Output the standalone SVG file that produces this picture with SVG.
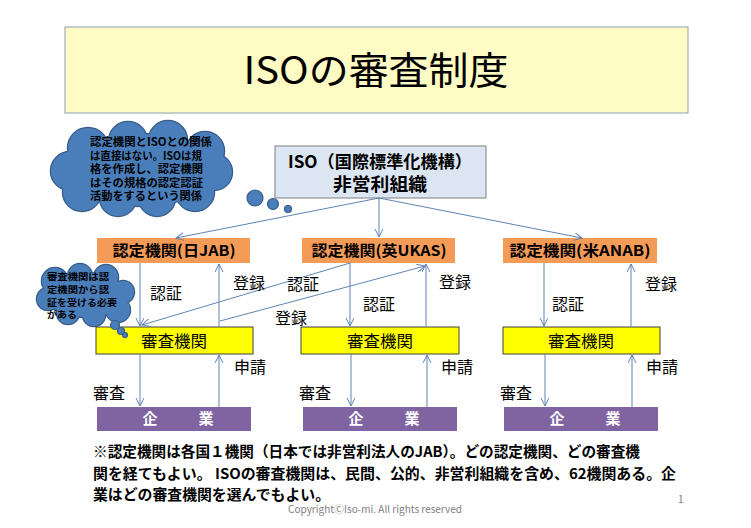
<svg xmlns="http://www.w3.org/2000/svg" width="751" height="528" viewBox="0 0 751 528">
<style>
text{font-family:"Noto Sans CJK JP","Noto Sans",sans-serif;fill:#000}
.b{font-weight:bold}
.lbl{font-size:16px}
.org rect{fill:#F59B58;stroke:none}
.org text{font-size:15px;font-weight:bold;text-anchor:middle}
.yel rect{fill:#FFFF00;stroke:#404040;stroke-width:1}
.yel text{font-size:16px;text-anchor:middle}
.pur rect{fill:#8064A2;stroke:none}
.pur text{font-size:15px;font-weight:bold;fill:#fff;text-anchor:middle}
.conn line{stroke:#5F83B5;stroke-width:1;marker-end:url(#ah)}
.cl-o *{fill:#4A7EBB;stroke:#385D8A;stroke-width:2.5}
.cl-f *{fill:#4A7EBB;stroke:none}
.bub{fill:#4A7EBB;stroke:#385D8A;stroke-width:1.2}
.cloudtxt{font-weight:bold}
</style>
<defs>
<marker id="ah" markerUnits="userSpaceOnUse" markerWidth="10" markerHeight="10" refX="8" refY="4" orient="auto">
<path d="M0,0 L8,4 L0,8" fill="none" stroke="#5F83B5" stroke-width="1"/>
</marker>
</defs>
<rect width="751" height="528" fill="#fff"/>

<g id="title">
<rect x="65" y="27" width="623" height="86" fill="#FFFBC4" stroke="#8EA0B4" stroke-width="1"/>
<text x="376" y="84" font-size="38" text-anchor="middle" textLength="265" lengthAdjust="spacingAndGlyphs">ISOの審査制度</text>
</g>

<g id="cloud1">
<g class="cl-o">
<ellipse cx="142" cy="170" rx="72" ry="36"/>
<circle cx="88" cy="148" r="20"/>
<circle cx="128" cy="141" r="19"/>
<circle cx="168" cy="140" r="19"/>
<circle cx="205" cy="151" r="19"/>
<circle cx="70" cy="171" r="19"/>
<circle cx="82" cy="192" r="19"/>
<circle cx="118" cy="198" r="18"/>
<circle cx="157" cy="198" r="18"/>
<circle cx="195" cy="192" r="19"/>
<circle cx="214" cy="172" r="18"/>
</g>
<g class="cl-f">
<ellipse cx="142" cy="170" rx="72" ry="36"/>
<circle cx="88" cy="148" r="20"/>
<circle cx="128" cy="141" r="19"/>
<circle cx="168" cy="140" r="19"/>
<circle cx="205" cy="151" r="19"/>
<circle cx="70" cy="171" r="19"/>
<circle cx="82" cy="192" r="19"/>
<circle cx="118" cy="198" r="18"/>
<circle cx="157" cy="198" r="18"/>
<circle cx="195" cy="192" r="19"/>
<circle cx="214" cy="172" r="18"/>
</g>
<circle class="bub" cx="255" cy="198" r="8"/>
<circle class="bub" cx="273" cy="204" r="5.5"/>
<circle class="bub" cx="288" cy="209" r="3.5"/>
<text class="cloudtxt" font-size="11">
<tspan x="90" y="146" textLength="122" lengthAdjust="spacingAndGlyphs">認定機関とISOとの関係</tspan>
<tspan x="90" y="159.5" textLength="112" lengthAdjust="spacingAndGlyphs">は直接はない。ISOは規</tspan>
<tspan x="90" y="173" textLength="113" lengthAdjust="spacingAndGlyphs">格を作成し、認定機関</tspan>
<tspan x="90" y="186.5" textLength="113" lengthAdjust="spacingAndGlyphs">はその規格の認定認証</tspan>
<tspan x="90" y="200" textLength="112" lengthAdjust="spacingAndGlyphs">活動をするという関係</tspan>
</text>
</g>

<g id="cloud2">
<g class="cl-o">
<ellipse cx="86" cy="295" rx="40" ry="22"/>
<circle cx="55" cy="281" r="13"/>
<circle cx="80" cy="276" r="12"/>
<circle cx="106" cy="277" r="12"/>
<circle cx="123" cy="292" r="11"/>
<circle cx="118" cy="310" r="12"/>
<circle cx="94" cy="315" r="11"/>
<circle cx="68" cy="313" r="11"/>
<circle cx="48" cy="299" r="11"/>
</g>
<g class="cl-f">
<ellipse cx="86" cy="295" rx="40" ry="22"/>
<circle cx="55" cy="281" r="13"/>
<circle cx="80" cy="276" r="12"/>
<circle cx="106" cy="277" r="12"/>
<circle cx="123" cy="292" r="11"/>
<circle cx="118" cy="310" r="12"/>
<circle cx="94" cy="315" r="11"/>
<circle cx="68" cy="313" r="11"/>
<circle cx="48" cy="299" r="11"/>
</g>
<text class="cloudtxt" font-size="9.5">
<tspan x="47" y="280" textLength="62" lengthAdjust="spacingAndGlyphs">審査機関は認</tspan>
<tspan x="47" y="293" textLength="62" lengthAdjust="spacingAndGlyphs">定機関から認</tspan>
<tspan x="47" y="306" textLength="70" lengthAdjust="spacingAndGlyphs">証を受ける必要</tspan>
<tspan x="47" y="318" textLength="30" lengthAdjust="spacingAndGlyphs">がある</tspan>
</text>
</g>

<g id="iso">
<rect x="275" y="146" width="211" height="52" fill="#DCE6F2" stroke="#7F7F7F" stroke-width="1"/>
<text x="380" y="168" class="b" font-size="17" text-anchor="middle" textLength="184" lengthAdjust="spacingAndGlyphs">ISO（国際標準化機構）</text>
<text x="380" y="191" class="b" font-size="18" text-anchor="middle" textLength="94" lengthAdjust="spacingAndGlyphs">非営利組織</text>
</g>

<g id="ab-jab" class="org"><rect x="97" y="238" width="153" height="25"/><text x="174" y="256" textLength="123" lengthAdjust="spacingAndGlyphs">認定機関(日JAB)</text></g>
<g id="ab-ukas" class="org"><rect x="302" y="238" width="153" height="25"/><text x="379" y="256" textLength="135" lengthAdjust="spacingAndGlyphs">認定機関(英UKAS)</text></g>
<g id="ab-anab" class="org"><rect x="503" y="238" width="154" height="25"/><text x="580" y="256" textLength="141" lengthAdjust="spacingAndGlyphs">認定機関(米ANAB)</text></g>

<g id="cb-1" class="yel"><rect x="96" y="327" width="157" height="27"/><text x="174" y="347" textLength="66" lengthAdjust="spacingAndGlyphs">審査機関</text></g>
<g id="cb-2" class="yel"><rect x="301" y="327" width="158" height="27"/><text x="380" y="347" textLength="66" lengthAdjust="spacingAndGlyphs">審査機関</text></g>
<g id="cb-3" class="yel"><rect x="503" y="327" width="157" height="27"/><text x="581" y="347" textLength="66" lengthAdjust="spacingAndGlyphs">審査機関</text></g>

<g id="co-1" class="pur"><rect x="97" y="407" width="154" height="24"/><text x="178" y="424" textLength="71" lengthAdjust="spacing">企　　業</text></g>
<g id="co-2" class="pur"><rect x="303" y="407" width="154" height="24"/><text x="384" y="424" textLength="71" lengthAdjust="spacing">企　　業</text></g>
<g id="co-3" class="pur"><rect x="504" y="407" width="154" height="24"/><text x="585" y="424" textLength="71" lengthAdjust="spacing">企　　業</text></g>

<circle class="bub" cx="115" cy="325" r="4.5"/>
<circle class="bub" cx="121" cy="331" r="3.5"/>
<circle class="bub" cx="125" cy="335" r="2.5"/>

<g id="connectors" class="conn">
<line x1="379" y1="198" x2="176" y2="238"/>
<line x1="379" y1="198" x2="379" y2="237"/>
<line x1="379" y1="198" x2="582" y2="238"/>
<line x1="140" y1="263" x2="140" y2="326"/>
<line x1="219" y1="327" x2="219" y2="264"/>
<line x1="350" y1="263" x2="142" y2="325"/>
<line x1="220" y1="321" x2="425" y2="266"/>
<line x1="350" y1="263" x2="350" y2="326"/>
<line x1="426" y1="327" x2="426" y2="264"/>
<line x1="544" y1="263" x2="544" y2="326"/>
<line x1="631" y1="327" x2="631" y2="264"/>
<line x1="140" y1="354" x2="140" y2="406"/>
<line x1="219" y1="407" x2="219" y2="355"/>
<line x1="351" y1="354" x2="351" y2="406"/>
<line x1="427" y1="407" x2="427" y2="355"/>
<line x1="545" y1="354" x2="545" y2="406"/>
<line x1="632" y1="407" x2="632" y2="355"/>
</g>

<g id="labels" class="lbl">
<text x="150" y="299">認証</text>
<text x="233" y="289">登録</text>
<text x="287" y="290">認証</text>
<text x="363" y="310">認証</text>
<text x="275" y="324">登録</text>
<text x="439" y="288">登録</text>
<text x="645" y="290">登録</text>
<text x="552" y="310">認証</text>
<text x="234" y="373">申請</text>
<text x="441" y="373">申請</text>
<text x="646" y="373">申請</text>
<text x="93" y="399">審査</text>
<text x="299" y="399">審査</text>
<text x="500" y="399">審査</text>
</g>

<g id="footnote" class="b" font-size="14.5">
<text x="93" y="457" textLength="547" lengthAdjust="spacingAndGlyphs">※認定機関は各国１機関（日本では非営利法人のJAB）。どの認定機関、どの審査機</text>
<text x="93" y="479" textLength="583" lengthAdjust="spacingAndGlyphs">関を経てもよい。 ISOの審査機関は、民間、公的、非営利組織を含め、62機関ある。企</text>
<text x="93" y="500" textLength="237" lengthAdjust="spacingAndGlyphs">業はどの審査機関を選んでもよい。</text>
</g>
<text x="375" y="513" font-size="10" style="fill:#808080" text-anchor="middle" textLength="174" lengthAdjust="spacingAndGlyphs">CopyrightⒸIso-mi. All rights reserved</text>
<text x="678" y="503" font-size="10" style="fill:#808080">1</text>
</svg>
